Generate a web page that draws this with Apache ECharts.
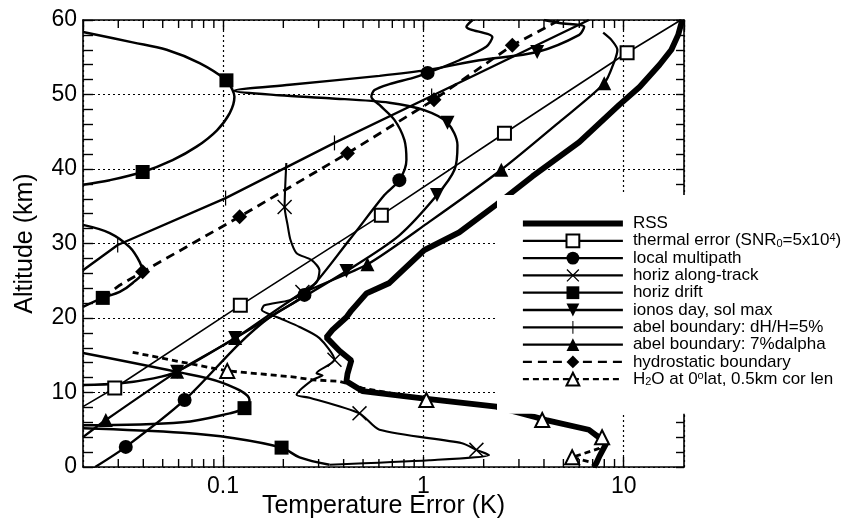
<!DOCTYPE html>
<html>
<head>
<meta charset="utf-8">
<script src="https://cdn.jsdelivr.net/npm/echarts@6/dist/echarts.min.js"></script>
<style>
html, body { margin: 0; padding: 0; background: #fff; }
#chart { width: 842px; height: 525px; }
</style>
</head>
<body>
<div id="chart"></div>
<script>
// Error profiles, each point is [temperature error (K), altitude (km)]
const rssProfile = [[7.1,0],[7.3,0.5],[7.55,1.4],[8.2,3.2],[6.7,5.0],[4.1,6.3],[2.31,8.1],[0.99,9.2],[0.496,10.2],[0.413,11.5],[0.418,12.5],[0.437,14.3],[0.381,15.6],[0.328,17.4],[0.352,18.4],[0.413,20.1],[0.437,21],[0.52,23.3],[0.677,24.7],[1.01,29.1],[1.51,31.5],[2.31,35.2],[3.5,39],[6.0,43.6],[9.5,48.6],[12.0,51],[15.1,54],[17.3,56],[18.7,58],[19.6,60]];

const thermalProfile = [[0.02,8.1],[0.0288,10.6],[0.122,21.7],[0.617,33.8],[2.54,44.8],[10.4,55.6],[19.3,60]];
const thermalMarkAlt = [10.6, 21.7, 33.8, 44.8, 55.6];

const multipathProfile = [[0.023,0],[0.0327,2.7],[0.0643,9.0],[0.121,16.6],[0.171,20.1],[0.255,23.1],[0.428,30.5],[0.639,36.5],[0.759,38.5],[0.823,41.2],[0.804,43.9],[0.717,46.6],[0.604,48.6],[0.55,49.7],[0.57,50.6],[0.677,51.4],[0.88,52.2],[1.05,52.9],[1.51,54.6],[2.06,56.4],[2.21,57.7],[1.64,59.1],[1.76,60]];
const multipathMarkAlt = [2.7, 9.0, 23.1, 38.5, 52.9];

const alongTrackProfile = [[0.207,40.8],[0.203,34.9],[0.21,32.5],[0.217,30.5],[0.233,28.7],[0.276,27.8],[0.303,26.4],[0.293,24.8],[0.249,23.5],[0.215,22.4],[0.161,21.7],[0.156,21.1],[0.191,20],[0.241,18.8],[0.303,17.3],[0.36,14.4],[0.293,12.6],[0.314,12.3],[0.28,11.7],[0.233,9.7],[0.27,9.3],[0.48,7.2],[0.604,5.0],[1.56,3.2],[1.84,2.3],[2.13,1.6],[1.07,0.9],[0.34,0.3]];
const alongTrackMarkAlt = [34.9, 23.5, 14.4, 7.2, 2.3];

const driftUpper = [[0.02,58.4],[0.0354,57],[0.0523,56],[0.0764,54.2],[0.104,51.9],[0.1115,50.6],[0.114,49.7],[0.108,47.5],[0.0933,45.2],[0.0738,43],[0.056,41.2],[0.0397,39.6],[0.0272,38.5],[0.02,37.9]];
const driftMiddle = [[0.02,32.5],[0.0272,31.4],[0.0342,29.5],[0.0384,27.5],[0.0397,26.2],[0.0354,24.7],[0.0305,23.5],[0.0251,22.7],[0.02,21.5]];
const driftLower = [[0.02,15.3],[0.058,12.8],[0.0995,11.3],[0.1356,9.0],[0.128,7.9],[0.108,7.2],[0.0628,6.0],[0.02,5.6]];
const driftBottom = [[0.02,5.2],[0.0628,4.6],[0.1115,3.9],[0.196,2.6],[0.241,1.3],[0.34,0.3]];
const driftMarkAlt = [51.9, 39.6, 22.7, 7.9, 2.6];

const ionosProfile = [[0.02,11.0],[0.03,11.2],[0.045,11.9],[0.059,12.8],[0.115,17.3],[0.215,21.7],[0.413,26.3],[0.759,31.1],[1.17,36.5],[1.43,39.9],[1.48,43.2],[1.32,46.2],[1.01,47.9],[0.677,48.9],[0.34,49.5],[0.191,49.9],[0.114,50.5],[0.215,51.3],[0.604,52.5],[1.05,53.3],[1.9,54.6],[3.7,55.7],[6.0,58],[6.35,59.1],[4.77,59.6],[4.0,60]];
const ionosMarkAlt = [12.8, 17.3, 26.3, 36.5, 46.2, 55.7];

const abelHeightProfile = [[0.02,26.4],[0.0298,29.8],[0.103,36.1],[0.36,43.5],[1.1,49.8],[6.7,60]];
const abelHeightMarkAlt = [29.8, 36.1, 43.5, 49.8];

const abelAlphaProfile = [[0.02,4.0],[0.026,6.3],[0.059,12.8],[0.115,17.3],[0.241,23.1],[0.526,27.2],[1.07,32.9],[2.45,39.9],[4.77,46.3],[8.0,51.5],[8.97,54.4],[9.3,56],[8.7,57.3],[7.9,58.3]];
const abelAlphaMarkAlt = [6.3, 12.8, 17.3, 27.2, 39.9, 51.5];

const hydrostaticProfile = [[0.0251,22.7],[0.0305,24.4],[0.0397,26.2],[0.121,33.6],[0.418,42.1],[1.13,49.3],[2.78,56.6],[4.8,60]];
const hydrostaticMarkAlt = [26.2, 33.6, 42.1, 49.3, 56.6];

const waterProfile = [[0.0354,15.4],[0.054,14.4],[0.105,12.9],[0.222,12.1],[0.28,11.7],[0.381,11.5],[0.496,10.6],[1.035,9.0],[2.31,8.1],[3.92,6.3],[6.7,5.0],[7.8,4.0],[7.55,2.5],[5.53,1.3],[6.7,0.7],[7.55,0]];
const waterMarkAlt = [12.9, 9.0, 6.3, 4.0, 1.3];

// Axis ticks
const errorMinorTicks = [0.03,0.04,0.05,0.06,0.07,0.08,0.09,0.2,0.3,0.4,0.5,0.6,0.7,0.8,0.9,2,3,4,5,6,7,8,9];
const errorRange = [0.02, 20];
const altitudeRange = [0, 60];

const FONT = "'Liberation Sans', Arial, Helvetica, sans-serif";

// marker symbols
const crossPath = 'path://M0,1.4L1.4,0L10,8.6L18.6,0L20,1.4L11.4,10L20,18.6L18.6,20L10,11.4L1.4,20L0,18.6L8.6,10Z';
const tickPath = 'path://M0,0M20,20M9.2,0L10.8,0L10.8,20L9.2,20Z';
const barPath = 'path://M0,0M20,20M0,9L20,9L20,11L0,11Z';

const entries = [
  { name: 'RSS', segs: [rssProfile], marks: [], symbol: barPath, size: 0, width: 5.8 },
  { name: 'thermal error (SNR₀=5x10⁴)', segs: [thermalProfile], marks: thermalMarkAlt, symbol: 'emptyRect', size: 13, width: 1.6, border: 1.3 },
  { name: 'local multipath', segs: [multipathProfile], marks: multipathMarkAlt, symbol: 'circle', size: 14, width: 2.4, smooth: 0.3 },
  { name: 'horiz along-track', segs: [alongTrackProfile], marks: alongTrackMarkAlt, symbol: crossPath, size: 15, width: 2.1, smooth: 0.25 },
  { name: 'horiz drift', segs: [driftUpper, driftMiddle, driftLower, driftBottom], marks: driftMarkAlt, symbol: 'rect', size: 14, width: 2.5, smooth: 0.35 },
  { name: 'ionos day, sol max', segs: [ionosProfile], marks: ionosMarkAlt, symbol: 'triangle', rotate: 180, size: 14, width: 2.4, smooth: 0.3 },
  { name: 'abel boundary: dH/H=5%', segs: [abelHeightProfile], marks: abelHeightMarkAlt, symbol: tickPath, size: 15, width: 2.4 },
  { name: 'abel boundary: 7%dalpha', segs: [abelAlphaProfile], marks: abelAlphaMarkAlt, symbol: 'triangle', size: 14, width: 2.3, smooth: 0.25 },
  { name: 'hydrostatic boundary', segs: [hydrostaticProfile], marks: hydrostaticMarkAlt, symbol: 'diamond', size: 15, width: 2.8, dash: [9, 6] },
  { name: 'H₂O at 0°lat, 0.5km cor len', segs: [waterProfile], marks: waterMarkAlt, symbol: 'emptyTriangle', size: 14, width: 2.8, dash: [6, 4], border: 1.3 }
];

const legendText = {
  'thermal error (SNR₀=5x10⁴)': 'thermal error (SNR{sub|0}=5x10{sup|4})',
  'H₂O at 0°lat, 0.5km cor len': 'H{sub|2}O at 0{sup|o}lat, 0.5km cor len'
};

function markPoints(segs, alts) {
  const pts = [];
  segs.forEach(s => s.forEach(p => { if (alts.indexOf(p[1]) >= 0) pts.push(p); }));
  return pts;
}

const series = [];
entries.forEach(e => {
  e.segs.forEach(seg => {
    series.push({
      type: 'line', name: e.name, data: seg,
      symbol: e.symbol, symbolSize: e.size, symbolRotate: e.rotate || 0,
      showSymbol: false, smooth: e.smooth || false,
      lineStyle: { color: '#000', width: e.width, type: e.dash || 'solid' },
      itemStyle: { color: '#000', borderColor: '#000', borderWidth: e.border || 0 },
      emphasis: { disabled: true }, z: 3
    });
  });
  if (e.marks.length) {
    series.push({
      type: 'scatter', name: e.name, data: markPoints(e.segs, e.marks),
      symbol: e.symbol, symbolSize: e.size, symbolRotate: e.rotate || 0,
      itemStyle: { color: '#000', borderColor: '#000', borderWidth: e.border || 0, opacity: 1 },
      emphasis: { disabled: true }, z: 4
    });
  }
});

// small ticks between decades on bottom and top edges
series.push({
  type: 'custom', name: 'minor ticks', silent: true, z: 5,
  data: errorMinorTicks.map(v => [v, 0]),
  renderItem: function (params, api) {
    const x = api.coord([api.value(0), 0])[0];
    const cs = params.coordSys;
    const st = { stroke: '#000', lineWidth: 1.4 };
    return { type: 'group', children: [
      { type: 'line', shape: { x1: x, y1: cs.y + cs.height, x2: x, y2: cs.y + cs.height - 8 }, style: st },
      { type: 'line', shape: { x1: x, y1: cs.y, x2: x, y2: cs.y + 8 }, style: st }
    ] };
  }
});

const chart = echarts.init(document.getElementById('chart'), null, { renderer: 'canvas' });
const gridLine = { show: true, lineStyle: { color: '#000', width: 1.2, type: [2, 3] } };
const edgeLine = { show: true, onZero: false, lineStyle: { color: '#000', width: 1.6 } };

chart.setOption({
  animation: false,
  backgroundColor: '#fff',
  textStyle: { fontFamily: FONT },
  grid: { left: 83, right: 158, top: 20, bottom: 58, outerBoundsMode: 'none', containLabel: false },
  xAxis: [{
    type: 'log', logBase: 10, min: errorRange[0], max: errorRange[1], position: 'bottom',
    name: 'Temperature Error (K)', nameLocation: 'middle', nameGap: 27, nameMoveOverlap: false,
    nameTextStyle: { fontSize: 25, color: '#000', fontFamily: FONT },
    axisLine: edgeLine,
    axisTick: { show: true, inside: true, length: 10, lineStyle: { color: '#000', width: 1.4 } },
    axisLabel: { color: '#000', fontSize: 23, margin: 8, fontFamily: FONT, showMinLabel: false, showMaxLabel: false },
    splitLine: gridLine
  }, {
    type: 'log', logBase: 10, min: errorRange[0], max: errorRange[1], position: 'top',
    axisLine: edgeLine,
    axisTick: { show: true, inside: true, length: 10, lineStyle: { color: '#000', width: 1.4 } },
    axisLabel: { show: false }, splitLine: { show: false }
  }],
  yAxis: [{
    type: 'value', min: altitudeRange[0], max: altitudeRange[1], interval: 10, position: 'left',
    name: 'Altitude (km)', nameLocation: 'middle', nameGap: 45, nameMoveOverlap: false,
    nameTextStyle: { fontSize: 25, color: '#000', fontFamily: FONT },
    axisLine: edgeLine,
    axisTick: { show: true, inside: true, length: 10, lineStyle: { color: '#000', width: 1.4 } },
    minorTick: { show: true, splitNumber: 5, length: 10, lineStyle: { color: '#000', width: 1.4 } },
    axisLabel: { color: '#000', fontSize: 23, margin: 6, fontFamily: FONT },
    splitLine: gridLine
  }, {
    type: 'value', min: altitudeRange[0], max: altitudeRange[1], interval: 10, position: 'right',
    axisLine: edgeLine,
    axisTick: { show: true, inside: true, length: 8, lineStyle: { color: '#000', width: 1.4 } },
    minorTick: { show: true, splitNumber: 5, length: 8, lineStyle: { color: '#000', width: 1.4 } },
    axisLabel: { show: false }, splitLine: { show: false }
  }],
  legend: {
    data: entries.map(e => ({
      name: e.name,
      lineStyle: { width: e.name === 'RSS' ? 5.8 : 2.3 }
    })),
    orient: 'vertical', left: 497, top: 195,
    padding: [20, 5, 26, 23],
    backgroundColor: '#fff',
    itemWidth: 100, itemHeight: 16, itemGap: 0.3,
    selectedMode: false,
    formatter: name => legendText[name] || name,
    textStyle: {
      color: '#000', fontSize: 17, lineHeight: 17, fontFamily: FONT, padding: [0, 0, 0, 5],
      rich: {
        sub: { fontSize: 11, lineHeight: 2, verticalAlign: 'bottom', color: '#000', fontFamily: FONT },
        sup: { fontSize: 11, lineHeight: 4, verticalAlign: 'top', color: '#000', fontFamily: FONT }
      }
    }
  },
  series: series
});
</script>
</body>
</html>
